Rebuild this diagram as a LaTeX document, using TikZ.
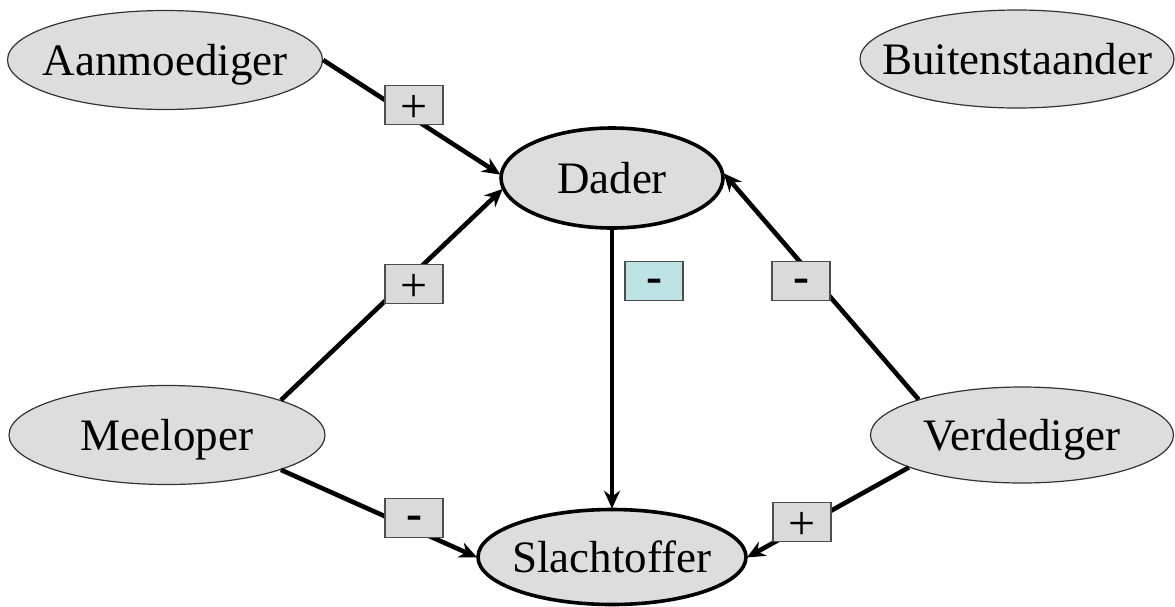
\documentclass[tikz,border=0pt]{standalone}
\usepackage{fontspec}
\setmainfont{Liberation Serif}
\usetikzlibrary{shapes.geometric,arrows.meta}
\definecolor{ellfill}{HTML}{DDDDDD}
\definecolor{boxfill}{HTML}{DADADA}
\definecolor{boxline}{HTML}{4D4D4D}
\definecolor{cyanfill}{HTML}{BDE3E5}
\tikzset{
  role/.style={ellipse, fill=ellfill, draw=black!80, line width=1.2pt, inner sep=0pt,
    text height=30pt, text depth=0pt, font=\fontsize{45}{54}\selectfont},
  main/.style={role, draw=black, line width=3.6pt},
  sign/.style={rectangle, fill=boxfill, draw=boxline, line width=1.8pt, inner sep=0pt,
    minimum width=58pt, minimum height=39pt, font=\fontsize{48}{56}\selectfont},
  link/.style={line width=4.6pt, -{Stealth[length=18pt,width=16pt]}, shorten >=-1pt}
}
\newcommand{\zw}[1]{\makebox[0pt]{#1}}
\newcommand{\mns}{\raisebox{-11pt}[0pt][0pt]{\textbf{-}}}
\newcommand{\pls}{\raisebox{-17pt}[0pt][0pt]{+}}
\begin{document}
\begin{tikzpicture}[x=1pt,y=-1pt]
\useasboundingbox (0,0) rectangle (1175,606);
\node[role, minimum width=315pt, minimum height=99pt] (a) at (165,60) {\zw{Aanmoediger}};
\node[role, minimum width=314pt, minimum height=98pt] (b) at (1017,59) {\zw{Buitenstaander}};
\node[main, minimum width=222pt, minimum height=100pt] (d) at (612,178) {\zw{Dader}};
\node[role, minimum width=316pt, minimum height=99pt] (m) at (167,435) {\zw{Meeloper}};
\node[role, minimum width=303pt, minimum height=96pt] (v) at (1022,435) {\zw{Verdediger}};
\node[main, minimum width=268pt, minimum height=95pt] (s) at (612,557) {\zw{Slachtoffer}};
\draw[link] (a.east) -- (d.178);
\draw[link] (m.17.5) -- (d.186);
\draw[link] (d.south) -- (s.north);
\draw[link] (v.161.4) -- (d.2);
\draw[link] (m.-17.5) -- (s.west);
\draw[link] (v.196.8) -- (s.east);
\node[sign] (p1) at (414,105) {\pls};
\node[sign] (p2) at (414,284) {\pls};
\node[sign, fill=cyanfill] (p3) at (654,281) {\mns};
\node[sign] (p4) at (801,281) {\mns};
\node[sign] (p5) at (414,518) {\mns};
\node[sign] (p6) at (802,522) {\pls};
\end{tikzpicture}
\end{document}
